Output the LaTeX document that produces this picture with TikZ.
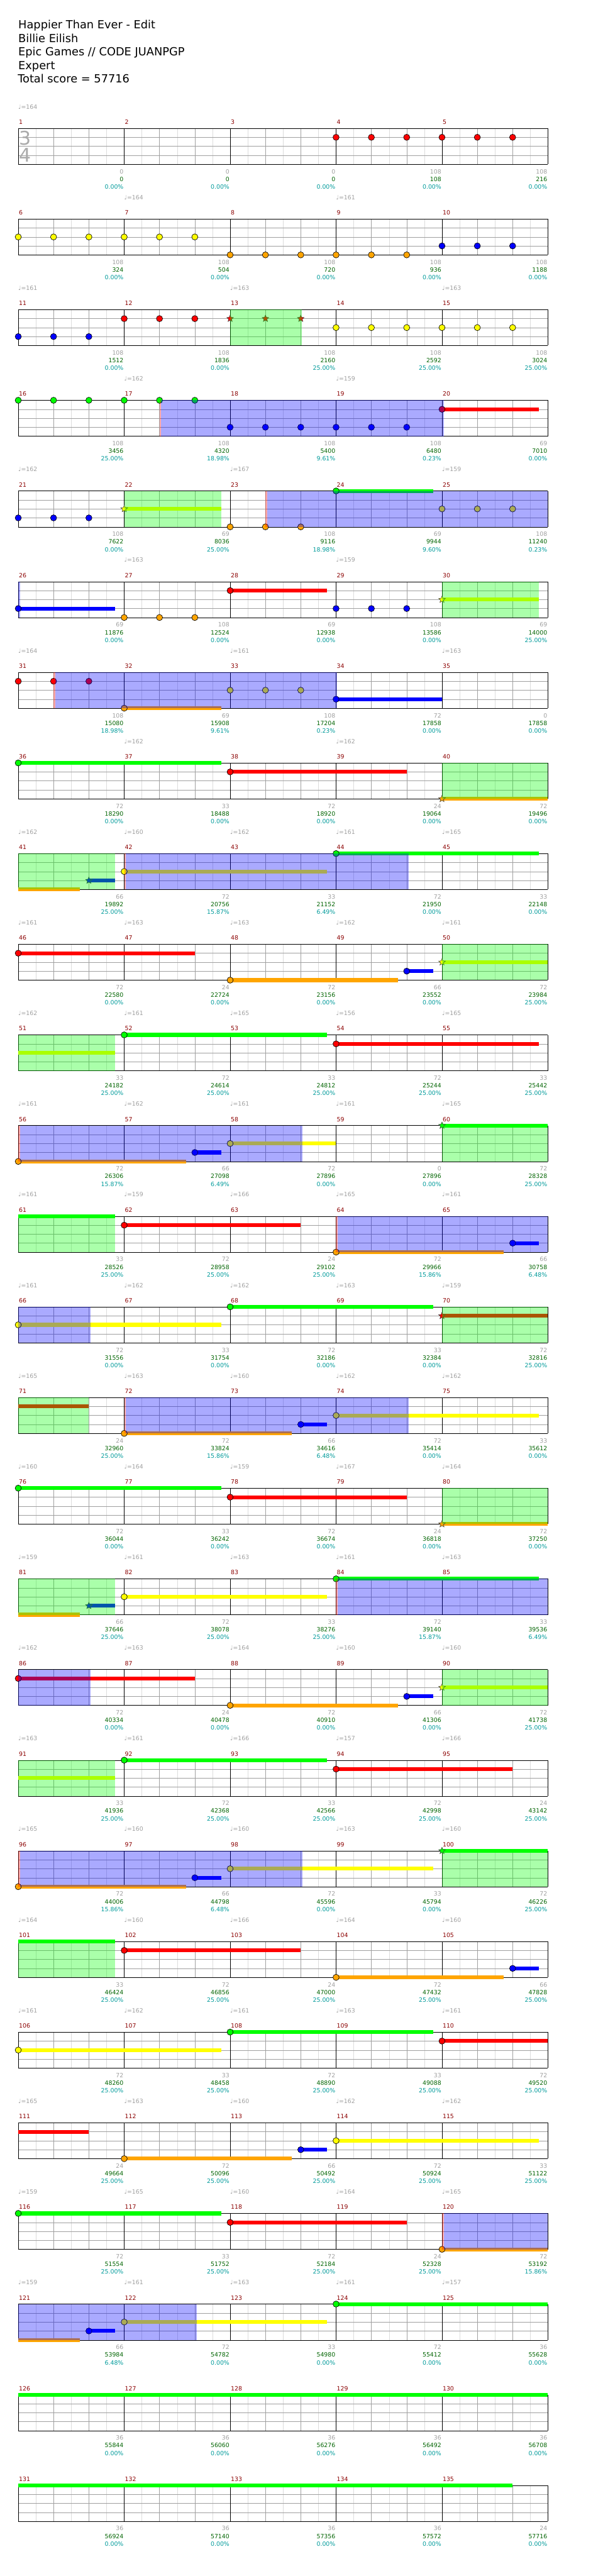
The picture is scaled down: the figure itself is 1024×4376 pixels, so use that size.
\documentclass[tikz,border=0pt]{standalone}
\usepackage{fontspec}
\setmainfont{DejaVu Sans}
\usepackage{tikz}
\usetikzlibrary{shapes.geometric}
\definecolor{chFret0}{HTML}{00FF00}
\definecolor{chFret1}{HTML}{FF0000}
\definecolor{chFret2}{HTML}{FFFF00}
\definecolor{chFret3}{HTML}{0000FF}
\definecolor{chFret4}{HTML}{FFA500}
\definecolor{chGrid}{HTML}{A0A0A0}
\definecolor{chHalf}{HTML}{DCDCDC}
\definecolor{chBar}{HTML}{8B0000}
\definecolor{chTotal}{HTML}{006400}
\definecolor{chPct}{HTML}{009B9B}
\definecolor{chSig}{HTML}{AAAAAA}

% px positions: top of a row, x of a beat
\newcommand{\rowy}[1]{(218+154*(#1-1))}
\newcommand{\bx}[1]{(31+60*(#1))}
\newcommand{\gem}[3]{\node[gem,fill=chFret#3] (g#1x#2) at ({\bx{#2}},{\rowy{#1}+15.25*#3}) {};}
\newcommand{\spgem}[3]{\node[spgem,fill=chFret#3] (s#1x#2) at ({\bx{#2}},{\rowy{#1}+15.25*#3}) {};}
\newcommand{\sustain}[4]{\draw[sustain,chFret#4] ({\bx{#2}},{\rowy{#1}+15.25*#4}) -- ({\bx{#3}},{\rowy{#1}+15.25*#4});}
\newcommand{\spzone}[3]{\fill[spfill] ({\bx{#2}},{\rowy{#1}}) rectangle ({\bx{#3}},{\rowy{#1}+61});}
\newcommand{\solozone}[3]{\fill[solofill] ({\bx{#2}},{\rowy{#1}}) rectangle ({\bx{#3}},{\rowy{#1}+61});}
\newcommand{\solostart}[3]{\fill[solomark] ({\bx{#2}},{\rowy{#1}}) rectangle ({\bx{#2}+3},{\rowy{#1}+61});
  \fill[solofill] ({\bx{#2}+3},{\rowy{#1}}) rectangle ({\bx{#3}},{\rowy{#1}+61});}

\begin{document}
\begin{tikzpicture}[x=1pt, y=-1pt,
  gem/.style={circle, draw=black, line width=0.7pt, minimum size=10.5pt, inner sep=0pt},
  spgem/.style={star, star points=5, star point ratio=2.2, draw=black!75, line width=0.6pt,
                minimum size=12pt, inner sep=0pt},
  sustain/.style={line width=6.5pt},
  spfill/.style={fill=chFret0, fill opacity=0.333},
  solofill/.style={fill=chFret3, fill opacity=0.333},
  solomark/.style={fill=chFret1, fill opacity=0.333},
  title/.style={font=\fontsize{19}{23}\selectfont, anchor=base west, inner sep=0pt},
  barnum/.style={font=\fontsize{10}{12}\selectfont, text=chBar, anchor=base west, inner sep=0pt},
  score/.style={font=\fontsize{10}{12}\selectfont, anchor=base east, inner sep=0pt},
  bpm/.style={font=\fontsize{10}{12}\selectfont, text=chGrid, anchor=base west, inner sep=0pt}]

\useasboundingbox[fill=white] (0,0) rectangle (1024,4376);

\node[title] (song) at (31,49) {Happier Than Ever - Edit};
\node[title] (artist) at (31,72) {Billie Eilish};
\node[title] (charter) at (31,95) {Epic Games // CODE JUANPGP};
\node[title] (level) at (31,118) {Expert};
\node[title] (total) at (30,141) {Total score = 57716};

% staves
\foreach \rr in {1,...,27}{
  \pgfmathsetmacro\ty{218+154*(\rr-1)}
  \foreach \k in {0,...,14} \draw[chHalf] (61+60*\k,\ty) -- ++(0,61);
  \foreach \k in {1,2,4,5,7,8,10,11,13,14} \draw[chGrid] (31+60*\k,\ty) -- ++(0,61);
  \foreach \i in {1,2,3} \draw[chGrid] (31,\ty+15.25*\i) -- ++(900,0);
  \foreach \k in {0,...,5} \draw (31+180*\k,\ty) -- ++(0,61);
  \draw (31,\ty) -- ++(900,0) (31,\ty+61) -- ++(900,0);
}
\node[font=\fontsize{32}{32}\selectfont, text=chSig, inner sep=0pt] (sig3) at (42.5,234.5) {3};
\node[font=\fontsize{32}{32}\selectfont, text=chSig, inner sep=0pt] (sig4) at (42.5,263.5) {4};

% notes
\foreach \k in {9,...,14}{\gem{1}{\k}{1}}
\foreach \k in {0,...,5}{\gem{2}{\k}{2}}
\foreach \k in {6,...,11}{\gem{2}{\k}{4}}
\foreach \k in {12,13,14}{\gem{2}{\k}{3}}
\foreach \k in {0,1,2}{\gem{3}{\k}{3}}
\foreach \k in {3,4,5}{\gem{3}{\k}{1}}
\foreach \k in {6,7,8}{\spgem{3}{\k}{1}}
\foreach \k in {9,...,14}{\gem{3}{\k}{2}}
\foreach \k in {0,...,5}{\gem{4}{\k}{0}}
\foreach \k in {6,...,11}{\gem{4}{\k}{3}}
\sustain{4}{12}{14.75}{1}\gem{4}{12}{1}
\foreach \k in {0,1,2}{\gem{5}{\k}{3}}
\sustain{5}{3}{5.75}{2}\spgem{5}{3}{2}
\foreach \k in {6,7,8}{\gem{5}{\k}{4}}
\sustain{5}{9}{11.75}{0}\gem{5}{9}{0}
\foreach \k in {12,13,14}{\gem{5}{\k}{2}}
\sustain{6}{0}{2.75}{3}\gem{6}{0}{3}
\foreach \k in {3,4,5}{\gem{6}{\k}{4}}
\sustain{6}{6}{8.75}{1}\gem{6}{6}{1}
\foreach \k in {9,10,11}{\gem{6}{\k}{3}}
\sustain{6}{12}{14.75}{2}\spgem{6}{12}{2}
\foreach \k in {0,1,2}{\gem{7}{\k}{1}}
\sustain{7}{3}{5.75}{4}\gem{7}{3}{4}
\foreach \k in {6,7,8}{\gem{7}{\k}{2}}
\sustain{7}{9}{12}{3}\gem{7}{9}{3}
\sustain{8}{0}{5.75}{0}\gem{8}{0}{0}
\sustain{8}{6}{11}{1}\gem{8}{6}{1}
\sustain{8}{12}{15}{4}\spgem{8}{12}{4}
\sustain{9}{0}{1.75}{4}
\sustain{9}{2}{2.75}{3}\spgem{9}{2}{3}
\sustain{9}{3}{8.75}{2}\gem{9}{3}{2}
\sustain{9}{9}{14.75}{0}\gem{9}{9}{0}
\sustain{10}{0}{5}{1}\gem{10}{0}{1}
\sustain{10}{6}{10.75}{4}\gem{10}{6}{4}
\sustain{10}{11}{11.75}{3}\gem{10}{11}{3}
\sustain{10}{12}{15}{2}\spgem{10}{12}{2}
\sustain{11}{0}{2.75}{2}
\sustain{11}{3}{8.75}{0}\gem{11}{3}{0}
\sustain{11}{9}{14.75}{1}\gem{11}{9}{1}
\sustain{12}{0}{4.75}{4}\gem{12}{0}{4}
\sustain{12}{5}{5.75}{3}\gem{12}{5}{3}
\sustain{12}{6}{9}{2}\gem{12}{6}{2}
\sustain{12}{12}{15}{0}\spgem{12}{12}{0}
\sustain{13}{0}{2.75}{0}
\sustain{13}{3}{8}{1}\gem{13}{3}{1}
\sustain{13}{9}{13.75}{4}\gem{13}{9}{4}
\sustain{13}{14}{14.75}{3}\gem{13}{14}{3}
\sustain{14}{0}{5.75}{2}\gem{14}{0}{2}
\sustain{14}{6}{11.75}{0}\gem{14}{6}{0}
\sustain{14}{12}{15}{1}\spgem{14}{12}{1}
\sustain{15}{0}{2}{1}
\sustain{15}{3}{7.75}{4}\gem{15}{3}{4}
\sustain{15}{8}{8.75}{3}\gem{15}{8}{3}
\sustain{15}{9}{14.75}{2}\gem{15}{9}{2}
\sustain{16}{0}{5.75}{0}\gem{16}{0}{0}
\sustain{16}{6}{11}{1}\gem{16}{6}{1}
\sustain{16}{12}{15}{4}\spgem{16}{12}{4}
\sustain{17}{0}{1.75}{4}
\sustain{17}{2}{2.75}{3}\spgem{17}{2}{3}
\sustain{17}{3}{8.75}{2}\gem{17}{3}{2}
\sustain{17}{9}{14.75}{0}\gem{17}{9}{0}
\sustain{18}{0}{5}{1}\gem{18}{0}{1}
\sustain{18}{6}{10.75}{4}\gem{18}{6}{4}
\sustain{18}{11}{11.75}{3}\gem{18}{11}{3}
\sustain{18}{12}{15}{2}\spgem{18}{12}{2}
\sustain{19}{0}{2.75}{2}
\sustain{19}{3}{8.75}{0}\gem{19}{3}{0}
\sustain{19}{9}{14}{1}\gem{19}{9}{1}
\sustain{20}{0}{4.75}{4}\gem{20}{0}{4}
\sustain{20}{5}{5.75}{3}\gem{20}{5}{3}
\sustain{20}{6}{11.75}{2}\gem{20}{6}{2}
\sustain{20}{12}{15}{0}\spgem{20}{12}{0}
\sustain{21}{0}{2.75}{0}
\sustain{21}{3}{8}{1}\gem{21}{3}{1}
\sustain{21}{9}{13.75}{4}\gem{21}{9}{4}
\sustain{21}{14}{14.75}{3}\gem{21}{14}{3}
\sustain{22}{0}{5.75}{2}\gem{22}{0}{2}
\sustain{22}{6}{11.75}{0}\gem{22}{6}{0}
\sustain{22}{12}{15}{1}\gem{22}{12}{1}
\sustain{23}{0}{2}{1}
\sustain{23}{3}{7.75}{4}\gem{23}{3}{4}
\sustain{23}{8}{8.75}{3}\gem{23}{8}{3}
\sustain{23}{9}{14.75}{2}\gem{23}{9}{2}
\sustain{24}{0}{5.75}{0}\gem{24}{0}{0}
\sustain{24}{6}{11}{1}\gem{24}{6}{1}
\sustain{24}{12}{15}{4}\gem{24}{12}{4}
\sustain{25}{0}{1.75}{4}
\sustain{25}{2}{2.75}{3}\gem{25}{2}{3}
\sustain{25}{3}{8.75}{2}\gem{25}{3}{2}
\sustain{25}{9}{15}{0}\gem{25}{9}{0}
\sustain{26}{0}{15}{0}
\sustain{27}{0}{14}{0}

% star power and solo sections
\spzone{3}{6}{8.03}
\spzone{5}{3}{5.75}
\spzone{6}{12}{14.75}
\foreach \rr in {8,10,12,14,16,18,20}{\spzone{\rr}{12}{15}}
\foreach \rr in {9,11,13,17,19,21}{\spzone{\rr}{0}{2.75}}
\spzone{15}{0}{2}
\solostart{4}{4}{12.05}
\solostart{5}{7}{15}
\solozone{6}{0}{0.05}
\solostart{7}{1}{9.03}
\solostart{9}{3}{11.05}
\solostart{12}{0}{8.05}
\solostart{13}{9}{15}
\solozone{14}{0}{2.05}
\solostart{15}{3}{11.05}
\solostart{17}{9}{15}
\solozone{18}{0}{2.05}
\solostart{20}{0}{8.05}
\solostart{24}{12}{15}
\solozone{25}{0}{5.05}

% measure numbers
\foreach \m in {1,...,135}{
  \pgfmathtruncatemacro\rr{(\m-1)/5}
  \pgfmathtruncatemacro\cc{\m-1-5*\rr}
  \node[barnum] (bar\m) at (32+180*\cc,211+154*\rr) {\m};
}

% tempo marks
\foreach \m/\q in {1/164,7/164,9/161,11/161,13/163,15/163,17/162,19/159,21/162,23/167,25/159,
  27/163,29/159,31/164,33/161,35/163,37/162,39/162,41/162,42/160,43/162,44/161,45/165,
  46/161,47/163,48/163,49/162,50/161,51/162,52/161,53/165,54/156,55/165,56/161,57/162,
  58/161,59/161,60/165,61/161,62/159,63/166,64/165,65/161,66/161,67/162,68/162,69/163,
  70/159,71/165,72/163,73/160,74/162,75/162,76/160,77/164,78/159,79/167,80/164,81/159,
  82/161,83/163,84/161,85/163,86/162,87/163,88/164,89/160,90/160,91/163,92/161,93/166,
  94/157,95/166,96/165,97/160,98/160,99/163,100/160,101/164,102/160,103/166,104/164,
  105/160,106/161,107/162,108/161,109/163,110/161,111/165,112/163,113/160,114/162,
  115/162,116/159,117/165,118/160,119/164,120/165,121/159,122/161,123/163,124/161,125/157}{
  \pgfmathtruncatemacro\rr{(\m-1)/5}
  \pgfmathtruncatemacro\cc{\m-1-5*\rr}
  \node[bpm] (bpm\m) at (31+180*\cc,185+154*\rr) {♩=\q};
}

% scores per measure
\foreach \m/\pts/\tot/\pct in {1/0/0/0.00,2/0/0/0.00,3/0/0/0.00,4/108/108/0.00,5/108/216/0.00,
  6/108/324/0.00,7/108/504/0.00,8/108/720/0.00,9/108/936/0.00,10/108/1188/0.00,
  11/108/1512/0.00,12/108/1836/0.00,13/108/2160/25.00,14/108/2592/25.00,15/108/3024/25.00,
  16/108/3456/25.00,17/108/4320/18.98,18/108/5400/9.61,19/108/6480/0.23,20/69/7010/0.00,
  21/108/7622/0.00,22/69/8036/25.00,23/108/9116/18.98,24/69/9944/9.60,25/108/11240/0.23,
  26/69/11876/0.00,27/108/12524/0.00,28/69/12938/0.00,29/108/13586/0.00,30/69/14000/25.00,
  31/108/15080/18.98,32/69/15908/9.61,33/108/17204/0.23,34/72/17858/0.00,35/0/17858/0.00,
  36/72/18290/0.00,37/33/18488/0.00,38/72/18920/0.00,39/24/19064/0.00,40/72/19496/0.00,
  41/66/19892/25.00,42/72/20756/15.87,43/33/21152/6.49,44/72/21950/0.00,45/33/22148/0.00,
  46/72/22580/0.00,47/24/22724/0.00,48/72/23156/0.00,49/66/23552/0.00,50/72/23984/25.00,
  51/33/24182/25.00,52/72/24614/25.00,53/33/24812/25.00,54/72/25244/25.00,55/33/25442/25.00,
  56/72/26306/15.87,57/66/27098/6.49,58/72/27896/0.00,59/0/27896/0.00,60/72/28328/25.00,
  61/33/28526/25.00,62/72/28958/25.00,63/24/29102/25.00,64/72/29966/15.86,65/66/30758/6.48,
  66/72/31556/0.00,67/33/31754/0.00,68/72/32186/0.00,69/33/32384/0.00,70/72/32816/25.00,
  71/24/32960/25.00,72/72/33824/15.86,73/66/34616/6.48,74/72/35414/0.00,75/33/35612/0.00,
  76/72/36044/0.00,77/33/36242/0.00,78/72/36674/0.00,79/24/36818/0.00,80/72/37250/0.00,
  81/66/37646/25.00,82/72/38078/25.00,83/33/38276/25.00,84/72/39140/15.87,85/33/39536/6.49,
  86/72/40334/0.00,87/24/40478/0.00,88/72/40910/0.00,89/66/41306/0.00,90/72/41738/25.00,
  91/33/41936/25.00,92/72/42368/25.00,93/33/42566/25.00,94/72/42998/25.00,95/24/43142/25.00,
  96/72/44006/15.86,97/66/44798/6.48,98/72/45596/0.00,99/33/45794/0.00,100/72/46226/25.00,
  101/33/46424/25.00,102/72/46856/25.00,103/24/47000/25.00,104/72/47432/25.00,105/66/47828/25.00,
  106/72/48260/25.00,107/33/48458/25.00,108/72/48890/25.00,109/33/49088/25.00,110/72/49520/25.00,
  111/24/49664/25.00,112/72/50096/25.00,113/66/50492/25.00,114/72/50924/25.00,115/33/51122/25.00,
  116/72/51554/25.00,117/33/51752/25.00,118/72/52184/25.00,119/24/52328/25.00,120/72/53192/15.86,
  121/66/53984/6.48,122/72/54782/0.00,123/33/54980/0.00,124/72/55412/0.00,125/36/55628/0.00,
  126/36/55844/0.00,127/36/56060/0.00,128/36/56276/0.00,129/36/56492/0.00,130/36/56708/0.00,
  131/36/56924/0.00,132/36/57140/0.00,133/36/57356/0.00,134/36/57572/0.00,135/24/57716/0.00}{
  \pgfmathtruncatemacro\rr{(\m-1)/5}
  \pgfmathtruncatemacro\cc{\m-1-5*\rr}
  \node[score,text=chGrid] (pts\m) at (210+180*\cc,295+154*\rr) {\pts};
  \node[score,text=chTotal] (tot\m) at (210+180*\cc,308+154*\rr) {\tot};
  \node[score,text=chPct] (pct\m) at (210+180*\cc,321+154*\rr) {\pct\%};
}
\end{tikzpicture}
\end{document}
